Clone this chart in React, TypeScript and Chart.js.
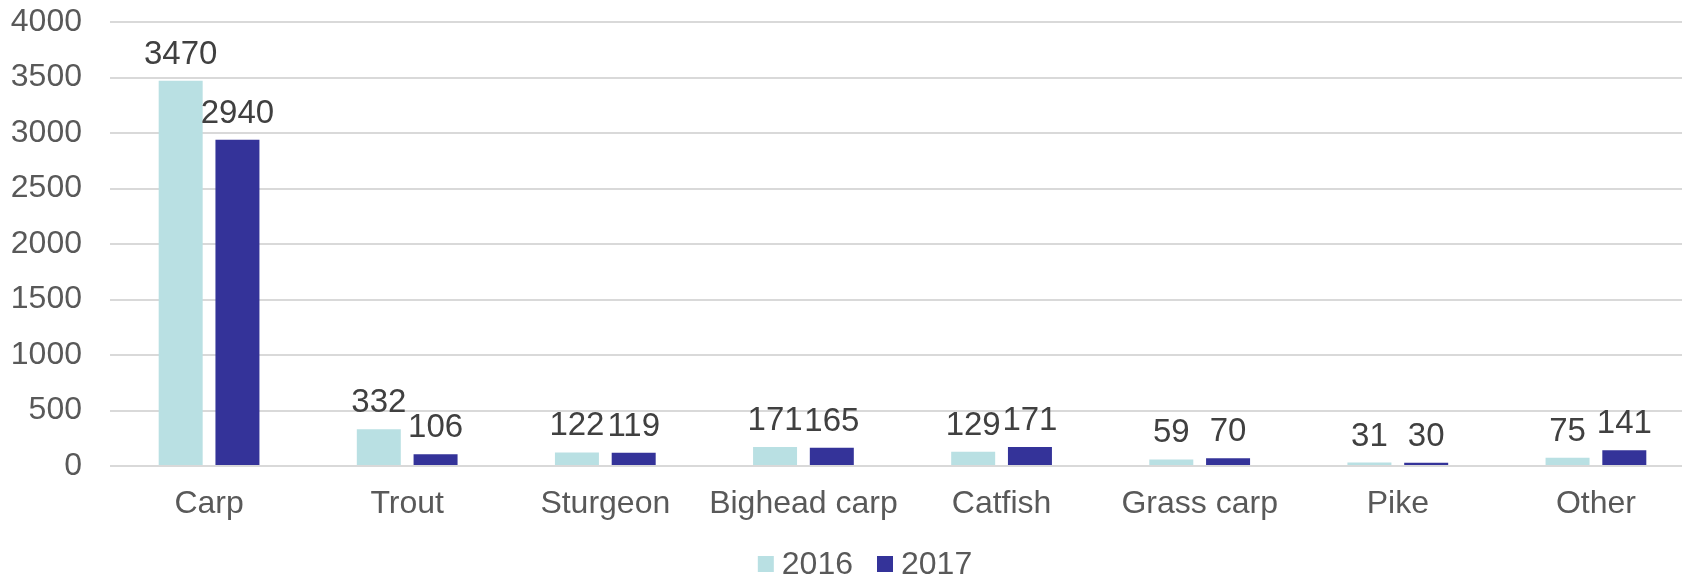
import React, { useEffect, useRef } from "react";
import { Chart, registerables } from "chart.js";

Chart.register(...registerables);

const categories = ["Carp", "Trout", "Sturgeon", "Bighead carp", "Catfish", "Grass carp", "Pike", "Other"];
const values2016 = [3470, 332, 122, 171, 129, 59, 31, 75];
const values2017 = [2940, 106, 119, 165, 171, 70, 30, 141];
const seriesLabels = ["2016", "2017"];
const yTicks = { min: 0, max: 4000, step: 500 };

const COLORS = ["#B9E0E3", "#343399"];
const FONT = "'Liberation Sans', Arial, sans-serif";
const FS = 32;
const EXTEND_RIGHT = 13;

const extendAreaPlugin = {
  id: "extendArea",
  afterLayout(chart: any) {
    const x = chart.scales.x;
    const newRight = chart.width + EXTEND_RIGHT;
    x.right = newRight;
    x.width = newRight - x.left;
    x.configure();
    chart.chartArea.right = newRight;
    chart.chartArea.width = newRight - chart.chartArea.left;
    const y = chart.scales.y;
    y.configure();
  },
};

const dataLabelPlugin = {
  id: "dataLabels",
  afterDatasetsDraw(chart: any) {
    const ctx = chart.ctx;
    ctx.save();
    ctx.font = `33px ${FONT}`;
    ctx.fillStyle = "#404040";
    ctx.textAlign = "center";
    ctx.textBaseline = "alphabetic";
    chart.data.datasets.forEach((ds: any, i: number) => {
      const meta = chart.getDatasetMeta(i);
      meta.data.forEach((el: any, j: number) => {
        ctx.fillText(String(ds.data[j]), el.x, el.y - 17);
      });
    });
    ctx.restore();
  },
};

const legendPlugin = {
  id: "customLegend",
  afterDraw(chart: any) {
    const ctx = chart.ctx;
    ctx.save();
    ctx.font = `${FS}px ${FONT}`;
    ctx.textBaseline = "middle";
    ctx.textAlign = "left";
    const box = 16;
    const gapText = 8;
    const gapItem = 24;
    const items = chart.data.datasets.map((ds: any) => ({
      label: ds.label,
      color: ds.backgroundColor,
      w: box + gapText + ctx.measureText(ds.label).width,
    }));
    const total = items.reduce((s: number, it: any) => s + it.w, 0) + gapItem * (items.length - 1);
    let x = 865 - total / 2;
    const cy = 564;
    items.forEach((it: any) => {
      ctx.fillStyle = it.color;
      ctx.fillRect(x, cy - box / 2, box, box);
      ctx.fillStyle = "#595959";
      ctx.fillText(it.label, x + box + gapText, cy + 1);
      x += it.w + gapItem;
    });
    ctx.restore();
  },
};

export default function App() {
  const ref = useRef<HTMLCanvasElement>(null);
  useEffect(() => {
    document.body.style.margin = "0";
    const chart = new Chart(ref.current!, {
      type: "bar",
      data: {
        labels: categories,
        datasets: [
          { label: seriesLabels[0], data: values2016, backgroundColor: COLORS[0], categoryPercentage: 0.573, barPercentage: 0.775 },
          { label: seriesLabels[1], data: values2017, backgroundColor: COLORS[1], categoryPercentage: 0.573, barPercentage: 0.775 },
        ],
      },
      options: {
        animation: false,
        responsive: false,
        layout: { padding: { left: 0, right: 0, top: 22, bottom: 0 } },
        plugins: { legend: { display: false }, tooltip: { enabled: false } },
        scales: {
          x: {
            grid: { display: false, drawTicks: false },
            border: { display: false },
            ticks: { color: "#595959", font: { family: FONT, size: FS }, padding: 19, maxRotation: 0, autoSkip: false },
            afterFit: (s: any) => {
              s.height = 111;
              s.paddingLeft = 0;
              s.paddingRight = 0;
            },
          },
          y: {
            min: yTicks.min,
            max: yTicks.max,
            grid: { color: "#D9D9D9", lineWidth: 2, drawTicks: false },
            border: { display: false },
            ticks: {
              stepSize: yTicks.step,
              color: "#595959",
              font: { family: FONT, size: FS },
              padding: 28,
              callback: (v: any) => String(v),
            },
            afterFit: (s: any) => {
              s.width = 110;
              s.paddingTop = 0;
              s.paddingBottom = 0;
            },
          },
        },
      },
      plugins: [extendAreaPlugin, dataLabelPlugin, legendPlugin],
    });
    return () => chart.destroy();
  }, []);
  return (
    <div style={{ position: "absolute", left: 0, top: 0, width: 1682, height: 577, background: "#fff" }}>
      <canvas ref={ref} width={1682} height={577} />
    </div>
  );
}
